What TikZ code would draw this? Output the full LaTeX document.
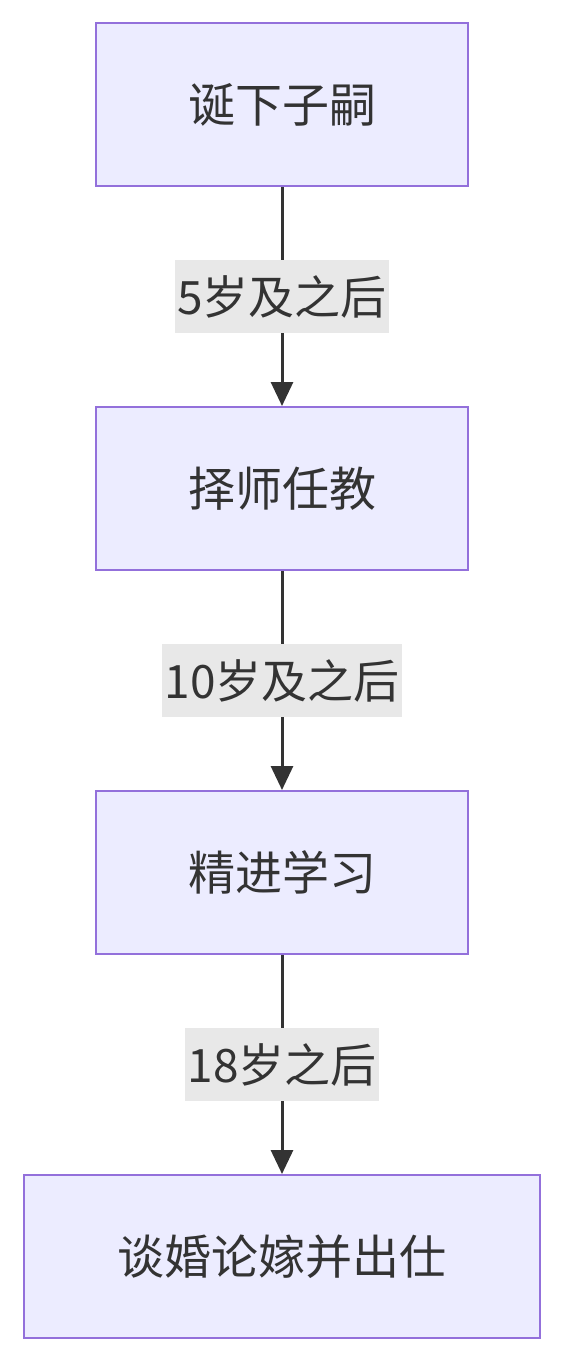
\documentclass[tikz,border=0pt]{standalone}
\usepackage{fontspec}
\setmainfont{Noto Sans CJK SC}
\usetikzlibrary{arrows.meta}
\definecolor{boxfill}{HTML}{ECECFF}
\definecolor{boxdraw}{HTML}{9370DB}
\definecolor{edgecol}{HTML}{333333}
\definecolor{lblfill}{HTML}{E8E8E8}
\tikzset{
  stepbox/.style={draw=boxdraw, fill=boxfill, line width=2pt, minimum height=163pt, inner sep=0pt, font=\fontsize{47}{55}\selectfont, text=edgecol},
  flow/.style={draw=edgecol, line width=3pt, -{Triangle[length=24pt,width=22pt]}},
  lbl/.style={fill=lblfill, font=\fontsize{46}{54}\selectfont, text=edgecol, minimum height=73pt, inner xsep=2pt, inner ysep=0pt}
}
\begin{document}
\begin{tikzpicture}[x=1pt,y=-1pt]
\useasboundingbox (0,0) rectangle (564,1362);
\node[stepbox, minimum width=372pt] (a) at (282,104.5) {诞下子嗣};
\node[stepbox, minimum width=372pt] (b) at (282,488.5) {择师任教};
\node[stepbox, minimum width=372pt] (c) at (282,872.5) {精进学习};
\node[stepbox, minimum width=516pt] (d) at (282,1256.5) {谈婚论嫁并出仕};
\draw[flow] (a) -- node[lbl] {5岁及之后} (b);
\draw[flow] (b) -- node[lbl] {10岁及之后} (c);
\draw[flow] (c) -- node[lbl] {18岁之后} (d);
\end{tikzpicture}
\end{document}
